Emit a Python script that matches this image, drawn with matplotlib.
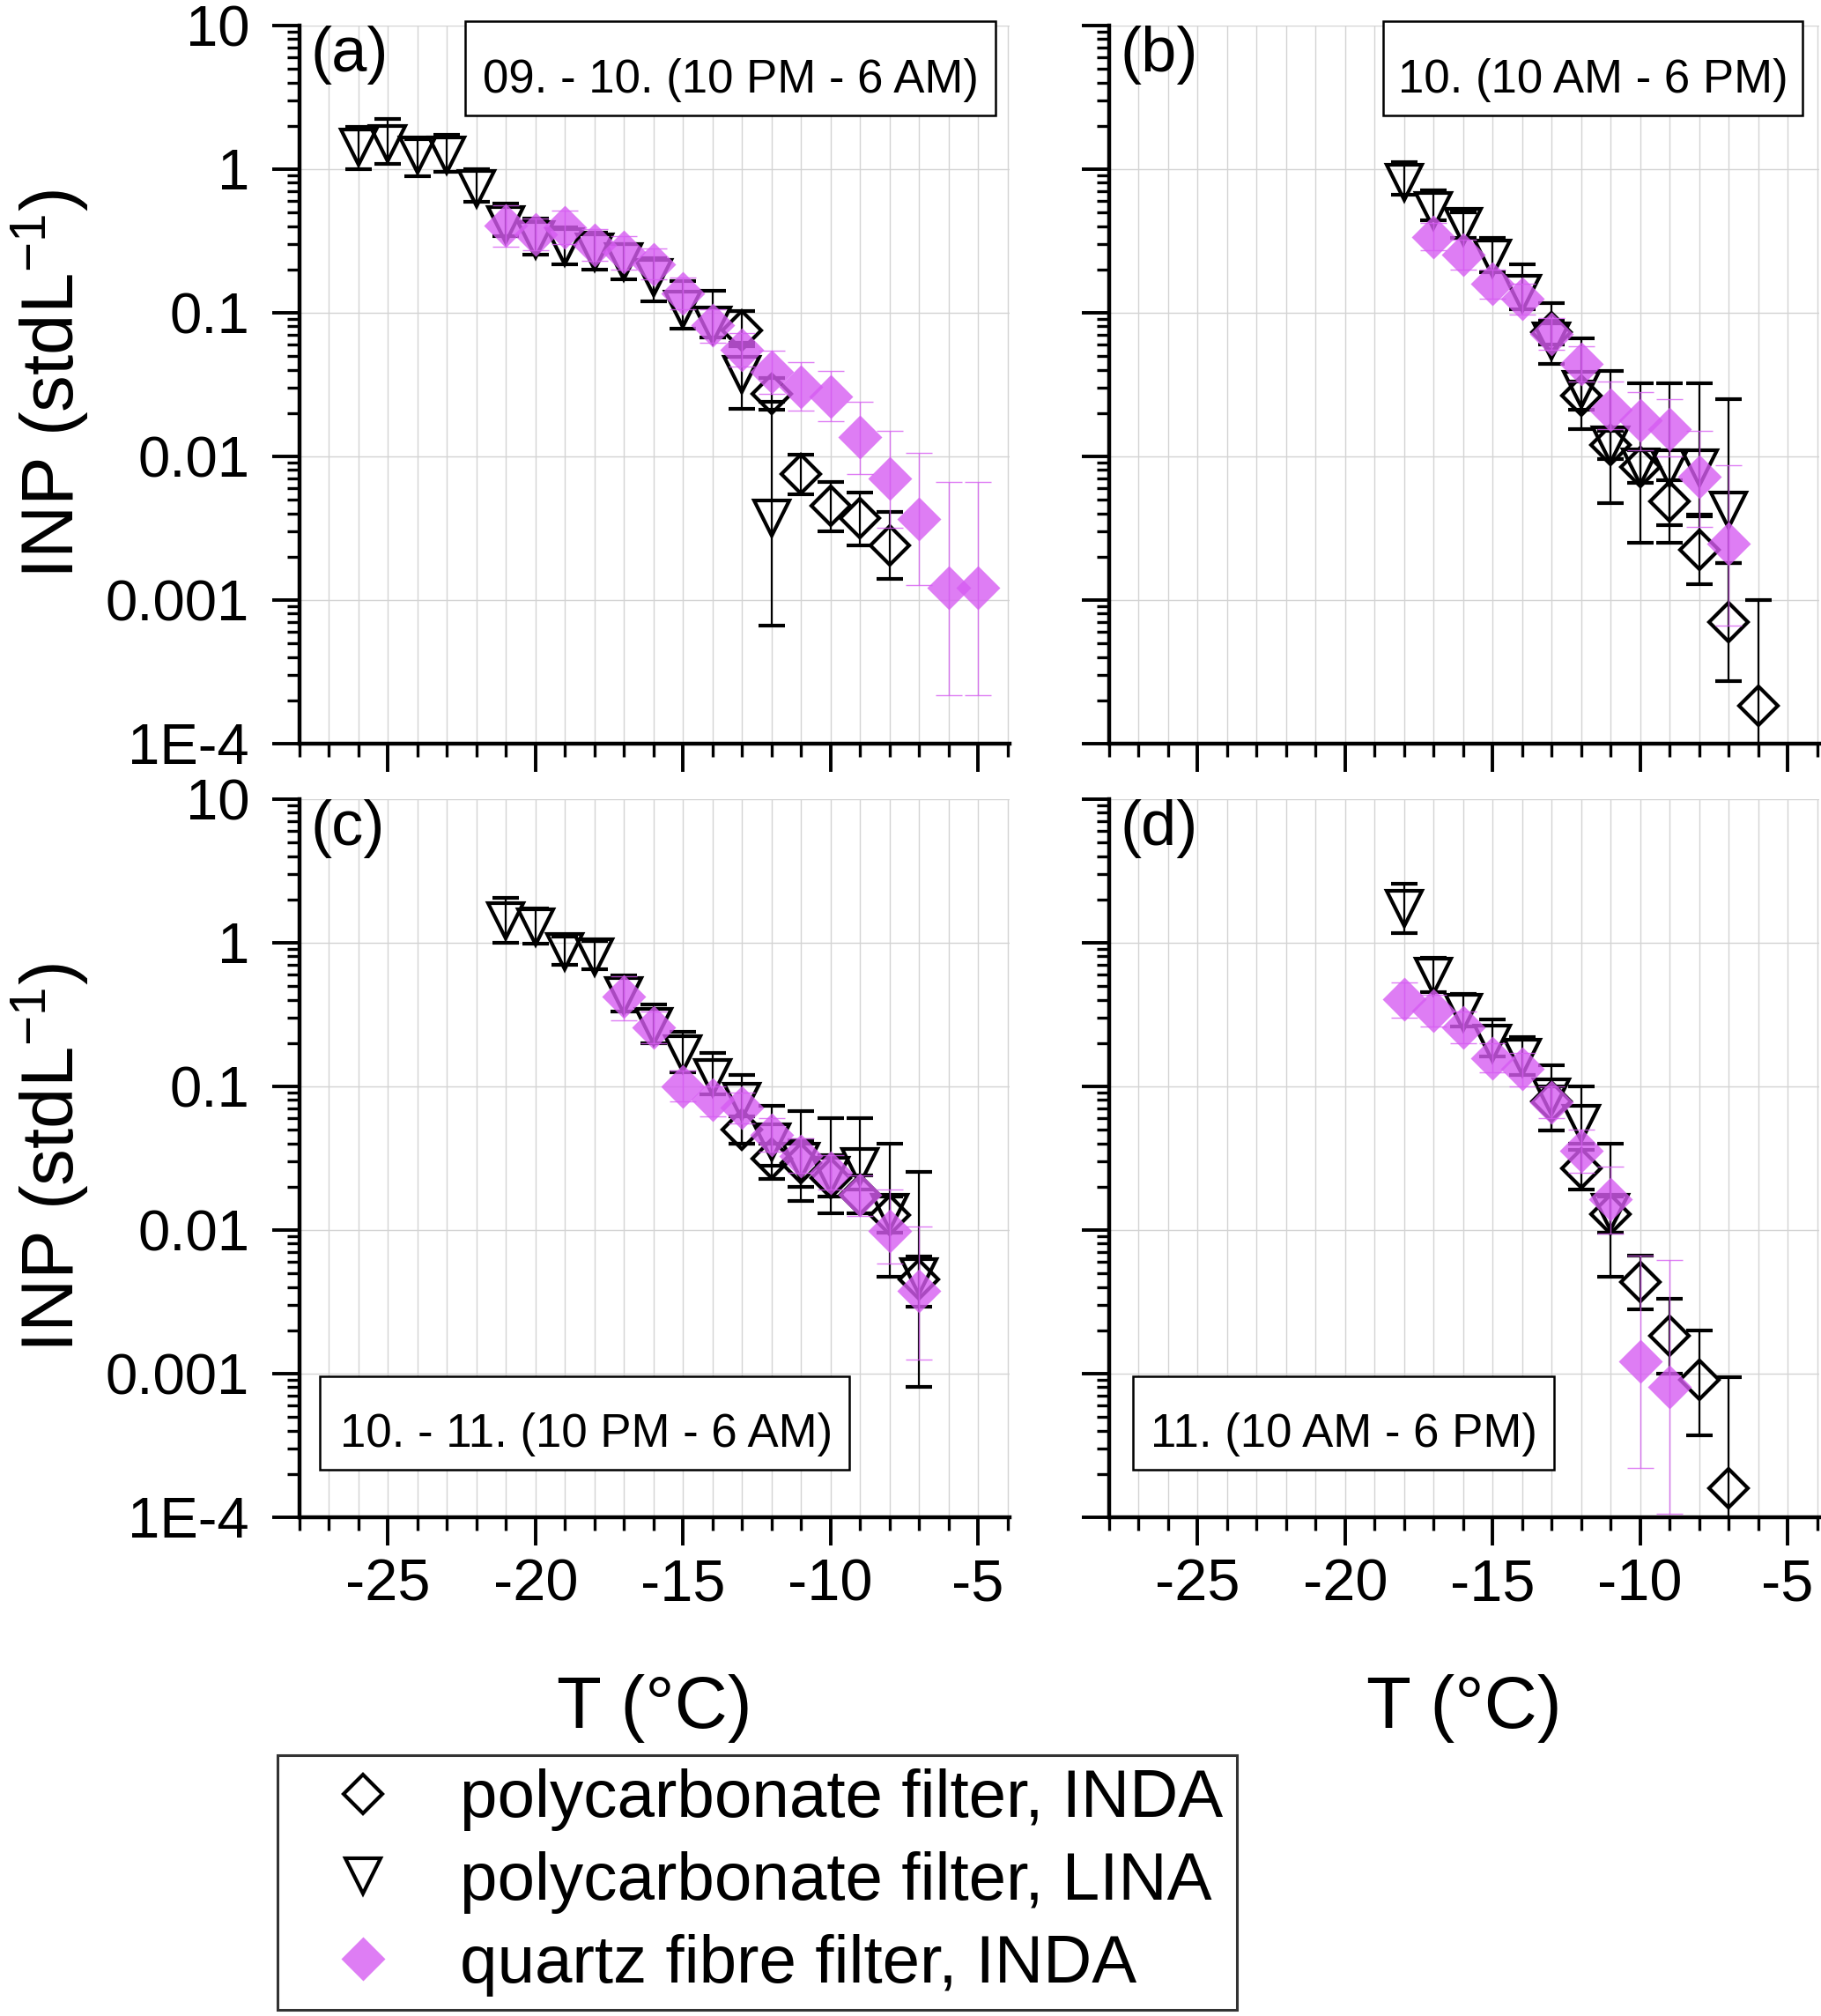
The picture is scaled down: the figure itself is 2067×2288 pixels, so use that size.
import matplotlib
matplotlib.use('Agg')
import matplotlib.pyplot as plt
import numpy as np
from matplotlib.lines import Line2D
from matplotlib.patches import Rectangle
from matplotlib.ticker import FixedLocator, FixedFormatter, LogLocator, NullFormatter

plt.rcParams['font.family'] = ['Liberation Sans', 'DejaVu Sans']
plt.rcParams['mathtext.fontset'] = 'custom'
plt.rcParams['mathtext.rm'] = 'Liberation Sans'
plt.rcParams['mathtext.default'] = 'regular'

# ---- data (T in degC, INP in stdL-1, lo/hi = error bar ends) ----
# (a) 09. - 10. (10 PM - 6 AM)
a_inda_T = [-13, -12, -11, -10, -9, -8]
a_inda = [0.0755, 0.0272, 0.0075, 0.0045, 0.0037, 0.0024]
a_inda_lo = [0.058, 0.021, 0.0054, 0.0030, 0.0024, 0.0014]
a_inda_hi = [0.103, 0.035, 0.0103, 0.0066, 0.0056, 0.0041]

a_lina_T = [-26, -25, -24, -23, -22, -21, -20, -19, -18, -17, -16, -15, -14, -13, -12]
a_lina = [1.42, 1.51, 1.24, 1.24, 0.73, 0.41, 0.32, 0.286, 0.264, 0.226, 0.176, 0.105, 0.082, 0.037, 0.0037]
a_lina_lo = [1.0, 1.08, 0.89, 0.95, 0.59, 0.34, 0.254, 0.217, 0.20, 0.17, 0.12, 0.077, 0.067, 0.0215, 0.00066]
a_lina_hi = [1.97, 2.22, 1.62, 1.73, 1.0, 0.57, 0.45, 0.39, 0.36, 0.30, 0.24, 0.165, 0.141, 0.062, 0.024]

a_qtz_T = [-21, -20, -19, -18, -17, -16, -15, -14, -13, -12, -11, -10, -9, -8, -7, -6, -5]
a_qtz = [0.406, 0.35, 0.39, 0.297, 0.264, 0.217, 0.136, 0.082, 0.055, 0.0387, 0.0306, 0.0262,
         0.0135, 0.0070, 0.00364, 0.00121, 0.00121]
a_qtz_lo = [0.286, 0.27, 0.30, 0.23, 0.20, 0.17, 0.105, 0.062, 0.042, 0.027, 0.0207, 0.0174,
            0.0075, 0.00316, 0.00126, 0.000217, 0.000217]
a_qtz_hi = [0.556, 0.45, 0.51, 0.38, 0.34, 0.28, 0.175, 0.105, 0.072, 0.054, 0.0453, 0.039,
            0.0239, 0.0151, 0.0105, 0.00665, 0.00665]

# (b) 10. (10 AM - 6 PM)
b_inda_T = [-13, -12, -11, -10, -9, -8, -7, -6]
b_inda = [0.0725, 0.0263, 0.012, 0.0084, 0.00486, 0.00222, 0.000703, 0.000182]
b_inda_lo = [0.06, 0.021, 0.0095, 0.0065, 0.0033, 0.00128, 0.00027, 0.00008]
b_inda_hi = [0.088, 0.033, 0.015, 0.011, 0.0068, 0.0039, 0.0018, 0.001]

b_lina_T = [-18, -17, -16, -15, -14, -13, -12, -11, -10, -9, -8, -7]
b_lina = [0.81, 0.514, 0.40, 0.239, 0.136, 0.063, 0.029, 0.012, 0.0084, 0.0083, 0.0083, 0.0042]
b_lina_lo = [0.66, 0.44, 0.33, 0.19, 0.105, 0.0436, 0.0154, 0.0047, 0.0025, 0.0025, 0.0038, 0.0018]
b_lina_hi = [1.12, 0.71, 0.50, 0.33, 0.217, 0.116, 0.066, 0.039, 0.032, 0.032, 0.032, 0.025]

b_qtz_T = [-17, -16, -15, -14, -13, -12, -11, -10, -9, -8, -7]
b_qtz = [0.334, 0.254, 0.159, 0.124, 0.071, 0.0436, 0.021, 0.0177, 0.0154, 0.0072, 0.00246]
b_qtz_lo = [0.27, 0.20, 0.125, 0.097, 0.055, 0.033, 0.0155, 0.011, 0.010, 0.0032, 0.00066]
b_qtz_hi = [0.42, 0.32, 0.20, 0.158, 0.092, 0.058, 0.033, 0.028, 0.025, 0.015, 0.0087]

# (c) 10. - 11. (10 PM - 6 AM)
c_inda_T = [-13, -12, -11, -10, -9, -8, -7]
c_inda = [0.050, 0.0314, 0.029, 0.023, 0.0175, 0.0126, 0.0045]
c_inda_lo = [0.040, 0.0225, 0.0158, 0.013, 0.013, 0.0095, 0.0008]
c_inda_hi = [0.062, 0.040, 0.042, 0.033, 0.024, 0.017, 0.0254]

c_lina_T = [-21, -20, -19, -18, -17, -16, -15, -14, -13, -12, -11, -10, -9, -8, -7]
c_lina = [1.42, 1.28, 0.86, 0.79, 0.425, 0.262, 0.167, 0.115, 0.078, 0.041, 0.030, 0.024, 0.0275, 0.0133, 0.0047]
c_lina_lo = [1.0, 0.98, 0.70, 0.65, 0.33, 0.20, 0.125, 0.088, 0.0396, 0.028, 0.020, 0.017, 0.019, 0.0047, 0.0029]
c_lina_hi = [2.05, 1.72, 1.10, 1.03, 0.59, 0.37, 0.24, 0.17, 0.12, 0.073, 0.067, 0.060, 0.060, 0.0396, 0.0065]

c_qtz_T = [-17, -16, -15, -14, -13, -12, -11, -10, -9, -8, -7]
c_qtz = [0.418, 0.256, 0.10, 0.08, 0.071, 0.046, 0.0327, 0.0248, 0.0175, 0.0098, 0.00375]
c_qtz_lo = [0.288, 0.20, 0.078, 0.062, 0.055, 0.035, 0.025, 0.019, 0.0125, 0.0058, 0.00125]
c_qtz_hi = [0.58, 0.33, 0.128, 0.10, 0.09, 0.06, 0.043, 0.033, 0.024, 0.019, 0.0105]

# (d) 11. (10 AM - 6 PM)
d_inda_T = [-13, -12, -11, -10, -9, -8, -7]
d_inda = [0.078, 0.0269, 0.0128, 0.00432, 0.00184, 0.0009, 0.000158]
d_inda_lo = [0.049, 0.019, 0.0095, 0.0028, 0.001, 0.00037, 0.00005]
d_inda_hi = [0.10, 0.036, 0.017, 0.0066, 0.0033, 0.002, 0.00094]

d_lina_T = [-18, -17, -16, -15, -14, -13, -12, -11]
d_lina = [1.72, 0.58, 0.324, 0.20, 0.158, 0.084, 0.055, 0.0133]
d_lina_lo = [1.17, 0.45, 0.26, 0.16, 0.12, 0.049, 0.040, 0.0047]
d_lina_hi = [2.58, 0.78, 0.44, 0.29, 0.22, 0.14, 0.099, 0.040]

d_qtz_T = [-18, -17, -16, -15, -14, -13, -12, -11, -10, -9]
d_qtz = [0.406, 0.336, 0.256, 0.157, 0.132, 0.077, 0.0353, 0.0164, 0.00121, 0.00081]
d_qtz_lo = [0.30, 0.26, 0.20, 0.125, 0.10, 0.06, 0.025, 0.0094, 0.00022, 0.000105]
d_qtz_hi = [0.53, 0.43, 0.33, 0.20, 0.17, 0.10, 0.05, 0.0275, 0.0066, 0.0062]

panel_tags = ['(a)', '(b)', '(c)', '(d)']
periods = ['09. - 10. (10 PM - 6 AM)', '10. (10 AM - 6 PM)',
           '10. - 11. (10 PM - 6 AM)', '11. (10 AM - 6 PM)']
series_labels = ['polycarbonate filter, INDA', 'polycarbonate filter, LINA',
                 'quartz fibre filter, INDA']

y_ticks = [1e-4, 1e-3, 1e-2, 1e-1, 1, 10]
y_tick_labels = ['1E-4', '0.001', '0.01', '0.1', '1', '10']
x_ticks = [-25, -20, -15, -10, -5]
x_tick_labels = ['-25', '-20', '-15', '-10', '-5']

# ---- styles ----
MAGENTA = '#d65cf2'
black_kw = dict(mfc='none', mec='black', mew=3.0, ecolor='black',
                elinewidth=1.6, capsize=11, capthick=1.8, ls='none')
style_inda = dict(marker='D', ms=22.5, zorder=3, **black_kw)
style_lina = dict(marker='v', ms=29, zorder=3, **black_kw)
style_qtz = dict(marker='D', ms=25, mfc=MAGENTA, mec='none', ecolor=MAGENTA,
                 elinewidth=1.0, capsize=11, capthick=1.0, ls='none', alpha=0.8, zorder=4)

W, H = 2067, 2288
fig = plt.figure(figsize=(W / 100, H / 100), dpi=100)

ax_w = 806 / W
ax_h = 815 / H
lefts = [340 / W, 1259 / W]
bottoms = [1 - 843.7 / H, 1 - 1721.7 / H]

panel_data = [
    [(a_inda_T, a_inda, a_inda_lo, a_inda_hi), (a_lina_T, a_lina, a_lina_lo, a_lina_hi), (a_qtz_T, a_qtz, a_qtz_lo, a_qtz_hi)],
    [(b_inda_T, b_inda, b_inda_lo, b_inda_hi), (b_lina_T, b_lina, b_lina_lo, b_lina_hi), (b_qtz_T, b_qtz, b_qtz_lo, b_qtz_hi)],
    [(c_inda_T, c_inda, c_inda_lo, c_inda_hi), (c_lina_T, c_lina, c_lina_lo, c_lina_hi), (c_qtz_T, c_qtz, c_qtz_lo, c_qtz_hi)],
    [(d_inda_T, d_inda, d_inda_lo, d_inda_hi), (d_lina_T, d_lina, d_lina_lo, d_lina_hi), (d_qtz_T, d_qtz, d_qtz_lo, d_qtz_hi)],
]
# date box in axes fraction: x0, y0, x1, y1, text x, text baseline
box_pos = [(0.233, 0.8745, 0.980, 1.0057, 0.607, 0.9064),
           (0.386, 0.8745, 0.976, 1.0057, 0.682, 0.9064),
           (0.0285, 0.0659, 0.774, 0.196, 0.404, 0.098),
           (0.0335, 0.0659, 0.626, 0.196, 0.330, 0.098)]

for i in range(4):
    row, col = divmod(i, 2)
    ax = fig.add_axes([lefts[col], bottoms[row], ax_w, ax_h])

    for (T, y, lo, hi), st in zip(panel_data[i], [style_inda, style_lina, style_qtz]):
        y = np.array(y)
        yerr = [y - np.array(lo), np.array(hi) - y]
        ax.errorbar(T, y, yerr=yerr, **st)

    ax.set_yscale('log')
    ax.set_ylim(1e-4, 10)
    ax.set_xlim(-28, -3.93)

    ax.yaxis.set_major_locator(FixedLocator(y_ticks))
    ax.yaxis.set_major_formatter(FixedFormatter(y_tick_labels))
    ax.yaxis.set_minor_locator(LogLocator(base=10, subs=np.arange(2, 10)))
    ax.yaxis.set_minor_formatter(NullFormatter())
    ax.xaxis.set_major_locator(FixedLocator(x_ticks))
    ax.xaxis.set_major_formatter(FixedFormatter(x_tick_labels))
    ax.xaxis.set_minor_locator(FixedLocator(np.arange(-28, -3)))

    for s in ['top', 'right']:
        ax.spines[s].set_visible(False)
    for s in ['left', 'bottom']:
        ax.spines[s].set_linewidth(3.2)

    ax.tick_params(axis='y', which='major', direction='out', length=22, width=2.8,
                   labelsize=47, pad=19, labelleft=(col == 0))
    ax.tick_params(axis='y', which='minor', direction='out', length=10, width=2.4)
    ax.tick_params(axis='x', which='major', direction='out', length=23, width=2.8,
                   labelsize=48, pad=11, labelbottom=(row == 1))
    ax.tick_params(axis='x', which='minor', direction='out', length=11, width=2.4)

    ax.grid(True, which='both', axis='x', color='#d3d3d3', lw=1.0, zorder=0)
    ax.grid(True, which='major', axis='y', color='#d3d3d3', lw=1.0, zorder=0)
    ax.set_axisbelow(True)

    ax.text(0.015, 1.0, panel_tags[i], transform=ax.transAxes, fontsize=52,
            ha='left', va='top')

    x0, y0, x1, y1, tx, ty = box_pos[i]
    ax.add_patch(Rectangle((x0, y0), x1 - x0, y1 - y0, transform=ax.transAxes,
                           fc='white', ec='black', lw=1.8, zorder=6, clip_on=False))
    ax.text(tx, ty, periods[i], transform=ax.transAxes, fontsize=38,
            ha='center', va='baseline', zorder=7, clip_on=False)

    if col == 0:
        fig.text(57 / W, 1 - (436 + row * 878) / H, 'INP (stdL$^{-1}$)', fontsize=60,
                 rotation=90, ha='center', va='center')
    if row == 1:
        fig.text(lefts[col] + ax_w / 2, 1 - 1961 / H, 'T (°C)', fontsize=60,
                 ha='center', va='baseline')

handles = [
    Line2D([], [], ls='none', marker='D', ms=22.5, mfc='none', mec='black', mew=3.0),
    Line2D([], [], ls='none', marker='v', ms=29, mfc='none', mec='black', mew=3.0),
    Line2D([], [], ls='none', marker='D', ms=25, mfc=MAGENTA, mec='none', alpha=0.8),
]
leg = fig.legend(handles, series_labels, loc='upper left',
                 bbox_to_anchor=(315 / W, 1 - 1992 / H), borderaxespad=0,
                 fontsize=55, frameon=True, fancybox=False, edgecolor='black',
                 borderpad=0.2, labelspacing=0.3, handlelength=2.13, handletextpad=0.38)
leg.get_frame().set_linewidth(2.2)

fig.savefig('out.png', dpi=100)
